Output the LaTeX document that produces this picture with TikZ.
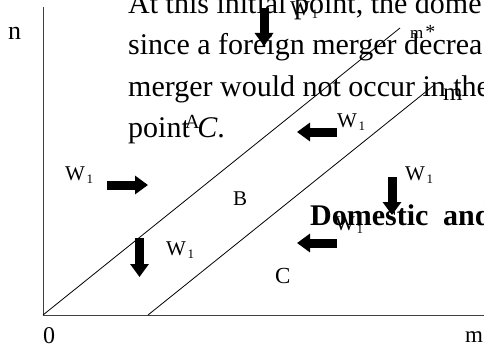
\documentclass[tikz,border=0pt]{standalone}
\usepackage{fontspec}
\setmainfont{Liberation Serif}
\usetikzlibrary{arrows.meta}
\newcommand{\fs}[1]{\fontsize{#1}{#1}\selectfont}
\newcommand{\Wlab}{\fs{21}W\hspace{1.5pt}\raisebox{-3pt}{\fs{13}1}}
\begin{document}
\begin{tikzpicture}[x=1pt,y=-1pt,
  blk/.style={line width=9pt,-{Triangle[width=18pt,length=13pt]}},
  lab/.style={inner sep=0pt,anchor=base west},
  axisline/.style={line width=1pt,black!75},
  diag/.style={line width=0.8pt,black}]
\useasboundingbox (0,0) rectangle (484,345);
\clip (0,0) rectangle (484,345);
% paragraph text behind
\node[lab,font=\fs{30}] (t1) at (128,14) {At this initial point, the dome};
\node[lab,font=\fs{30}] (t2) at (128,55) {since a foreign merger decrea};
\node[lab,font=\fs{30}] (t3) at (128,96) {merger would not occur in the};
\node[lab,font=\fs{30}] (t4) at (128,137) {point \textit{C}.};
\node[lab,font=\fs{30}\bfseries] (t5) at (310,225) {Domestic};
\node[lab,font=\fs{30}\bfseries] (t6) at (443,225) {and};
% axes
\coordinate (O) at (43,315);
\coordinate (ytop) at (43,7);
\coordinate (xend) at (484,315);
\draw[axisline] (ytop) -- (O) -- (xend);
% diagonals
\coordinate (d1e) at (400,28);
\coordinate (d2s) at (148,315);
\coordinate (d2e) at (433,86);
\draw[diag] (O) -- (d1e);
\draw[diag] (d2s) -- (d2e);
% axis labels
\node[lab,font=\fs{26}] (n) at (8,40) {n};
\node[lab,font=\fs{24}] (zero) at (43,343) {0};
\node[lab,font=\fs{23}] (mx) at (465,342) {m};
\node[lab,font=\fs{17}] (mstar) at (410,38) {m\hspace{2pt}{\fs{20}*}};
\node[lab,font=\fs{25}] (mm) at (443,100) {m};
% region labels
\node[lab,font=\fs{20}] (A) at (185,128) {A};
\node[lab,font=\fs{21}] (B) at (233,205) {B};
\node[lab,font=\fs{23}] (C) at (275,283) {C};
% W1 labels
\node[lab] (w1) at (65,180) {\Wlab};
\node[lab] (w2) at (166,255) {\Wlab};
\node[lab] (w3) at (337,127) {\Wlab};
\node[lab] (w4) at (405,180) {\Wlab};
\node[lab] (w5) at (335,230) {\Wlab};
\node[lab] (w6) at (290,16) {\Wlab};
% block arrows
\coordinate (a1s) at (107,185); \coordinate (a1e) at (148,185);
\coordinate (a2s) at (264,8);   \coordinate (a2e) at (264,46);
\coordinate (a3s) at (139.5,238); \coordinate (a3e) at (139.5,277);
\coordinate (a4s) at (337,132); \coordinate (a4e) at (297,132);
\coordinate (a5s) at (392,177); \coordinate (a5e) at (392,215);
\coordinate (a6s) at (337,243); \coordinate (a6e) at (297,243);
\draw[blk] (a1s) -- (a1e);
\draw[blk] (a2s) -- (a2e);
\draw[blk] (a3s) -- (a3e);
\draw[blk] (a4s) -- (a4e);
\draw[blk] (a5s) -- (a5e);
\draw[blk] (a6s) -- (a6e);
\end{tikzpicture}
\end{document}
